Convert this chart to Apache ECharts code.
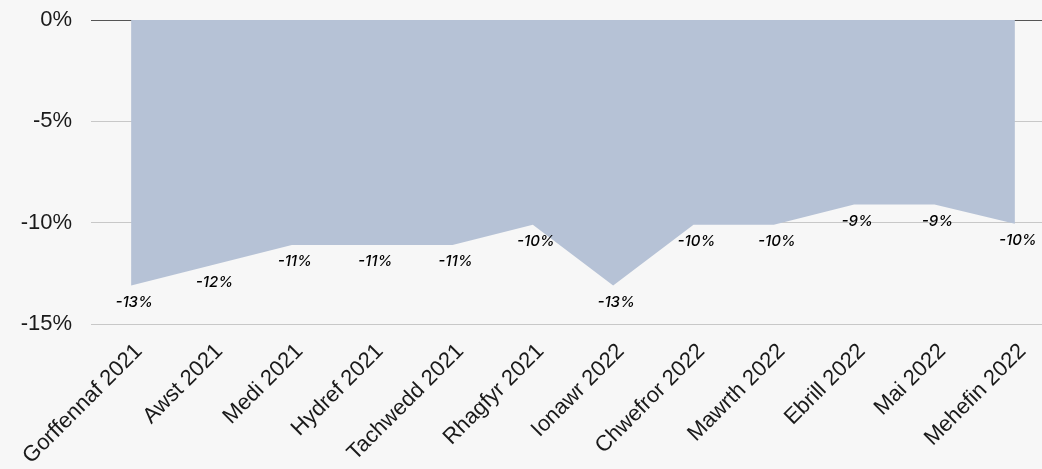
<!DOCTYPE html>
<html><head><meta charset="utf-8">
<script src="https://cdn.jsdelivr.net/npm/echarts@6/dist/echarts.min.js"></script>
<style>html,body{margin:0;padding:0;background:#f7f7f7}#c{width:1042px;height:469px}</style>
</head><body><div id="c"></div>
<script>
const categories = ["Gorffennaf 2021","Awst 2021","Medi 2021","Hydref 2021","Tachwedd 2021","Rhagfyr 2021","Ionawr 2022","Chwefror 2022","Mawrth 2022","Ebrill 2022","Mai 2022","Mehefin 2022"];
const values = [-13.1,-12.1,-11.1,-11.1,-11.1,-10.1,-13.1,-10.1,-10.1,-9.1,-9.1,-10.05];
const chart = echarts.init(document.getElementById('c'), null, {renderer:'canvas'});
chart.setOption({
  backgroundColor:'#f7f7f7',
  animation:false,
  grid:{left:91,width:964,top:20,height:304,containLabel:false,outerBoundsMode:'none'},
  xAxis:{type:'category',data:categories,boundaryGap:true,
    axisLine:{show:false,onZero:false},axisTick:{show:false},
    axisLabel:{rotate:45,interval:0,margin:16,fontSize:22,color:'#1a1a1a',fontFamily:'Liberation Sans',verticalAlign:'top'}},
  yAxis:{type:'value',min:-15,max:0,interval:5,
    axisLine:{show:false},axisTick:{show:false},
    axisLabel:{formatter:'{value}%',fontSize:22,color:'#1a1a1a',margin:19,fontFamily:'Liberation Sans'},
    splitLine:{lineStyle:{color:['#c8c8c8','#c8c8c8','#c8c8c8','#555'],width:1}}},
  series:[{type:'line',data:values,showSymbol:true,symbol:'circle',symbolSize:1,
    lineStyle:{width:0},itemStyle:{color:'rgba(0,0,0,0)'},areaStyle:{color:'#b6c2d6',opacity:1},
    label:{show:true,position:'bottom',distance:9,offset:[3,0],fontSize:15,fontWeight:500,fontStyle:'italic',color:'#000',fontFamily:'Inter',
      formatter:p=>Math.round(p.value)+'%'}}]
});
</script></body></html>
